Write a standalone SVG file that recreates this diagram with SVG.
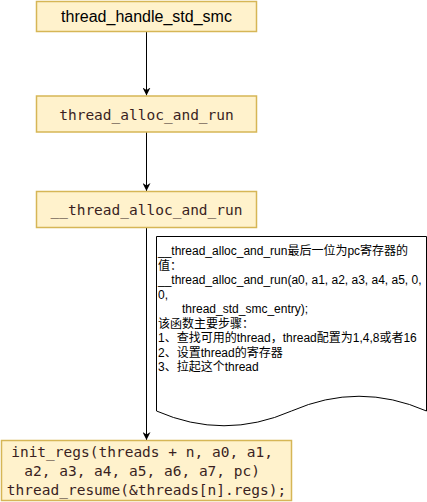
<svg xmlns="http://www.w3.org/2000/svg" width="427" height="502" viewBox="0 0 427 502">
<defs>
<style>
.box{fill:#fff2cc;stroke:#d6b656;stroke-width:1.5}
.sans{font-family:"Liberation Sans",Arial,sans-serif;fill:#000}
.mono{font-family:"DejaVu Sans Mono","Liberation Mono",monospace;font-size:14.5px;fill:#3a1f1f}
.doc{font-family:"Liberation Sans",Arial,"Noto Sans CJK SC",sans-serif;font-size:12px;fill:#000}
.edge{stroke:#000;stroke-width:1;fill:none}
</style>
<marker id="arr" viewBox="0 0 10 10" refX="10" refY="5" markerWidth="8" markerHeight="8" markerUnits="userSpaceOnUse" orient="auto">
<path d="M0,0 L10,5 L0,10 L3,5 Z" fill="#000"/>
</marker>
</defs>
<rect width="427" height="502" fill="#fff"/>
<g id="connectors">
<line class="edge" x1="146.5" y1="32" x2="146.5" y2="95.5" marker-end="url(#arr)"/>
<line class="edge" x1="146.5" y1="132" x2="146.5" y2="191" marker-end="url(#arr)"/>
<line class="edge" x1="146.5" y1="227.5" x2="146.5" y2="440" marker-end="url(#arr)"/>
</g>
<g id="n1">
<rect class="box" x="36.5" y="1.5" width="220" height="30"/>
<text class="sans" x="146.5" y="22" font-size="16" text-anchor="middle">thread_handle_std_smc</text>
</g>
<g id="n2">
<rect class="box" x="36.5" y="96" width="220" height="36"/>
<text class="mono" x="146.5" y="119.5" text-anchor="middle">thread_alloc_and_run</text>
</g>
<g id="n3">
<rect class="box" x="36.5" y="191.5" width="220" height="36"/>
<text class="mono" x="146.5" y="215" text-anchor="middle">__thread_alloc_and_run</text>
</g>
<g id="note">
<path d="M156.5,236.5 L426.5,236.5 L426.5,411 Q359,381.5 291.5,411 Q224,440.5 156.5,411 Z" fill="#fff" stroke="#000" stroke-width="1"/>
<text class="doc">
<tspan x="158" y="255">__thread_alloc_and_run最后一位为pc寄存器的</tspan>
<tspan x="158" y="269.5">值：</tspan>
<tspan x="158" y="284">__thread_alloc_and_run(a0, a1, a2, a3, a4, a5, 0,</tspan>
<tspan x="158" y="298.5">0,</tspan>
<tspan x="182" y="313">thread_std_smc_entry);</tspan>
<tspan x="158" y="327.5">该函数主要步骤：</tspan>
<tspan x="158" y="342">1、查找可用的thread，thread配置为1,4,8或者16</tspan>
<tspan x="158" y="356.5">2、设置thread的寄存器</tspan>
<tspan x="158" y="371">3、拉起这个thread</tspan>
</text>
</g>
<g id="n4">
<rect class="box" x="1.5" y="440.5" width="290" height="60"/>
<text class="mono" text-anchor="middle">
<tspan x="146.5" y="457">init_regs(threads + n, a0, a1,</tspan>
<tspan x="146.5" y="476">a2, a3, a4, a5, a6, a7, pc)</tspan>
<tspan x="146.5" y="495">thread_resume(&amp;threads[n].regs);</tspan>
</text>
</g>
</svg>
